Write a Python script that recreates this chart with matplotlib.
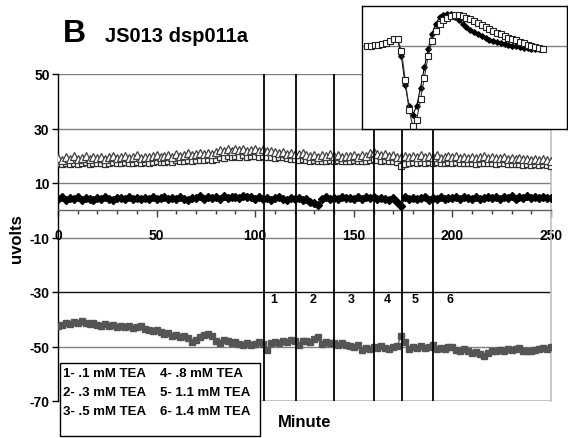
import numpy as np
import matplotlib
matplotlib.use("Agg")
import matplotlib.pyplot as plt

plt.rcParams['font.family'] = ['Liberation Sans', 'DejaVu Sans']
plt.rcParams['font.weight'] = 'bold'

# ---------------- data ----------------
tri_vals = [19.2,18.6,19.5,18.9,19.8,18.7,19.3,19.9,18.8,19.4,
            19.1,19.7,18.9,19.6,20.0,19.2,19.5,19.9,19.0,19.6,
            20.2,19.3,19.7,19.4,19.9,20.1,19.5,19.8,20.3,19.6,
            20.6,20.0,20.4,20.9,20.3,20.7,21.0,20.5,21.1,20.8,
            21.3,22.0,21.6,22.4,21.9,22.3,22.1,22.6,21.8,22.2,
            22.5,21.9,22.3,21.6,21.8,21.3,21.0,21.2,20.8,21.0,
            20.6,20.5,20.9,20.2,19.8,20.3,19.7,20.1,19.9,20.6,
            19.8,20.2,19.6,20.0,19.9,20.4,19.7,20.1,19.8,20.9,
            21.2,20.5,20.2,20.6,19.9,20.3,19.6,19.4,20.0,19.5,
            19.9,19.7,20.2,19.4,19.8,19.6,20.1,19.3,19.7,19.9,
            19.5,19.8,19.2,19.6,19.3,19.7,19.1,19.5,19.8,19.2,
            19.4,19.0,19.3,19.6,18.9,19.2,18.8,19.1,18.7,18.9,
            18.6,18.9,18.4,18.7,18.3,18.2]
sq_vals = [17.4,17.0,17.3,17.1,17.5,16.9,17.2,17.6,17.0,17.3,
           17.2,17.5,17.1,17.4,17.7,17.3,17.5,17.6,17.2,17.5,
           17.8,17.4,17.6,17.5,17.8,17.9,17.6,17.8,18.0,17.7,
           18.3,18.0,18.2,18.5,18.2,18.4,18.6,18.4,18.7,18.6,
           18.9,19.5,19.3,19.8,19.6,19.9,19.7,20.1,19.6,19.8,
           20.0,19.7,19.9,19.5,19.6,19.2,19.4,19.7,19.0,18.7,
           18.9,18.5,18.8,18.3,18.0,18.4,18.0,18.2,18.1,18.5,
           18.0,18.3,17.9,18.1,18.0,18.4,17.9,18.2,18.0,18.6,
           18.9,18.4,18.2,18.4,17.9,18.2,17.6,16.4,17.0,17.3,
           17.6,17.5,17.8,17.4,17.6,17.5,17.8,17.3,17.5,17.6,
           17.4,17.6,17.2,17.4,17.3,17.5,17.1,17.3,17.5,17.2,
           17.3,17.0,17.2,17.4,16.9,17.1,16.8,17.0,16.7,16.9,
           16.7,16.9,16.6,16.8,16.5,16.4]
dia_vals = [4.3,4.9,3.8,4.5,4.1,4.7,3.9,4.4,4.2,3.7,
            4.5,4.0,4.8,4.3,3.9,4.6,4.4,4.1,4.9,4.2,
            4.6,4.0,4.5,4.3,4.8,4.1,4.4,4.7,4.0,4.5,
            4.3,4.9,4.2,3.6,4.6,4.4,5.1,4.3,4.7,4.5,
            4.9,4.2,5.3,4.6,4.8,5.0,4.4,5.4,4.7,4.9,
            4.3,4.8,4.1,4.6,3.8,4.4,4.9,4.2,3.7,4.5,
            4.0,4.6,3.9,4.3,3.2,2.6,2.0,4.0,4.7,4.2,
            4.5,4.1,4.8,4.4,4.6,4.2,4.9,4.3,4.7,4.5,
            5.0,4.1,4.6,4.3,3.7,4.5,3.0,1.5,4.8,4.2,
            4.6,4.0,4.4,4.7,3.9,4.5,4.3,4.8,4.1,4.6,
            4.4,4.9,4.2,4.7,4.5,4.1,4.8,4.3,4.6,5.0,
            4.4,4.7,4.2,4.9,4.5,5.1,4.3,4.8,4.6,5.2,
            4.5,4.9,4.4,4.7,4.6,4.5]
low_vals = [-42.5,-42,-41.5,-41.8,-41,-41.5,-40.5,-41.2,-41.8,-41.5,
            -42,-42.3,-41.8,-42.5,-42,-42.8,-42.5,-43,-42.6,-43.2,
            -42.8,-42.5,-43.4,-43.8,-44.2,-44,-44.8,-45.5,-45,-46,
            -45.6,-46.5,-46.2,-47,-48.4,-47.5,-46.5,-45.8,-45.5,-46.3,
            -47.8,-48.6,-47.6,-48,-48.8,-48.2,-49,-49.5,-48.7,-49.3,
            -49,-48.5,-49.2,-51.2,-48.6,-48.2,-48.8,-47.8,-48.3,-47.6,
            -48,-49.5,-48,-47.8,-48.5,-47.2,-46.5,-48.9,-48.2,-48.6,
            -48.8,-49.3,-48.7,-49.5,-49.8,-50.2,-49.5,-51.3,-50.5,-50.8,
            -50.2,-50.6,-49.8,-50.5,-50.9,-50,-49.7,-46.2,-48.5,-50.8,
            -50.2,-50.5,-49.8,-50.6,-50.1,-49.5,-50.8,-50.4,-51,-50.2,
            -50,-51.2,-51.6,-51,-51.8,-52.3,-52,-52.8,-53.6,-52.5,
            -51.6,-51.8,-51.2,-51.5,-50.8,-51.4,-51,-50.6,-51.6,-51.5,
            -51.8,-51.2,-51,-50.6,-50.8,-50.3]
sample_step = 2  # minutes between samples

drug_times = [104.5, 120.5, 140, 160, 174.5, 190]
drug_labels = ['1', '2', '3', '4', '5', '6']
drug_label_x = [109.5, 129.3, 148.6, 166.8, 181, 198.8]
legend_col1 = ['1- .1 mM TEA', '2- .3 mM TEA', '3- .5 mM TEA']
legend_col2 = ['4- .8 mM TEA', '5- 1.1 mM TEA', '6- 1.4 mM TEA']

xticks = [0, 50, 100, 150, 200, 250]
yticks = [50, 30, 10, -10, -30, -50, -70]

# inset traces (arbitrary units, zero = baseline)
inset_sq = [0,0,1,3,6,9,15,20,19,-15,-102,-190,-240,-220,-160,-95,-30,
            15,45,65,75,83,88,90,90,87,83,78,73,67,61,55,49,44,39,34,29,
            24,20,16,11,7,3,-1,-4,-7,-10]
inset_dia = [0,0,1,3,6,9,15,20,19,-30,-118,-180,-205,-180,-125,-65,-10,
             35,65,85,92,95,93,85,75,65,55,47,40,34,28,22,18,14,10,8,5,3,
             0,-2,-4,-6,-8,-9,-10,-10,-10]

# ---------------- figure ----------------
fig = plt.figure(figsize=(5.68, 4.39), dpi=100)
ax = fig.add_axes([58/568, 1-402/439, (551-58)/568, (402-75)/439])

t = np.arange(len(tri_vals)) * sample_step
ax.plot(t, sq_vals, color='#404040', lw=0.6, marker='s', ms=4.5,
        mfc='white', mec='#303030', mew=0.9, zorder=3)
ax.plot(t, tri_vals, color='#606060', lw=0.6, marker='^', ms=6.2,
        mfc='white', mec='#404040', mew=0.9, zorder=4)
ax.plot(t, dia_vals, color='black', lw=0.9, marker='D', ms=4.4,
        mfc='black', mec='black', zorder=4)
ax.plot(t, low_vals, color='#555555', lw=0.8, marker='s', ms=4.2,
        mfc='#555555', mec='#555555', zorder=4)

ax.set_xlim(0, 250)
ax.set_ylim(-70, 50)

for y in yticks:
    c = '#111111' if y == -30 else '#808080'
    ax.axhline(y, color=c, lw=1.0, zorder=1)

for x in drug_times:
    ax.axvline(x, color='black', lw=1.3, zorder=5)
for x, lab in zip(drug_label_x, drug_labels):
    ax.text(x, -32.6, lab, ha='center', va='center', fontsize=9,
            fontweight='bold', zorder=6)

ax.spines['left'].set_color('black')
ax.spines['left'].set_linewidth(1.0)
ax.spines['right'].set_color('#c0c0c0')
ax.spines['right'].set_linewidth(1.2)
ax.spines['top'].set_visible(False)
ax.spines['bottom'].set_position(('data', 0))
ax.spines['bottom'].set_color('#606060')
ax.spines['bottom'].set_linewidth(1.0)

ax.set_yticks(yticks)
ax.set_yticklabels([str(v) for v in yticks], fontsize=10, fontweight='bold')
ax.tick_params(axis='y', direction='out', length=4, width=1, pad=2)
ax.set_xticks(xticks)
ax.set_xticklabels([str(v) for v in xticks], fontsize=10, fontweight='bold')
ax.set_xticks(np.arange(0, 251, 10), minor=True)
ax.tick_params(axis='x', which='major', direction='out', length=5, width=1,
               pad=8, color='#404040')
ax.tick_params(axis='x', which='minor', direction='out', length=3, width=1,
               color='#404040')

# bottom border at -70 (light grey)
ax.axhline(-70, color='#c0c0c0', lw=1.2, zorder=2)

ax.set_ylabel('uvolts', fontsize=12, fontweight='bold', labelpad=4)
fig.text(305/568, 1-423/439, 'Minute', ha='center', va='center',
         fontsize=12, fontweight='bold')

fig.text(63/568, 1-34/439, 'B', ha='left', va='center', fontsize=23,
         fontweight='bold')
fig.text(105/568, 1-37/439, 'JS013 dsp011a', ha='left', va='center',
         fontsize=14.5, fontweight='bold')

# legend-like text box
lx0, ly0, lx1, ly1 = 60, 364, 260, 437
fig.patches.append(plt.Rectangle((lx0/568, 1-ly1/439), (lx1-lx0)/568,
                                 (ly1-ly0)/439, transform=fig.transFigure,
                                 facecolor='white', edgecolor='black',
                                 lw=1.0, zorder=10))
row_y = [374, 393, 412]
for yy, a, b in zip(row_y, legend_col1, legend_col2):
    fig.text(63/568, 1-yy/439, a, ha='left', va='center', fontsize=9.5,
             fontweight='bold', zorder=11)
    fig.text(160/568, 1-yy/439, b, ha='left', va='center', fontsize=9.5,
             fontweight='bold', zorder=11)

# inset
axi = fig.add_axes([362/568, 1-130/439, (567-362)/568, (130-7)/439])
axi.set_zorder(20)
axi.set_facecolor('white')
xi = np.arange(len(inset_sq))
axi.axhline(0, color='#808080', lw=1.0)
axi.plot(xi, inset_dia, color='black', lw=0.8, marker='D', ms=2.8,
         mfc='black', mec='black')
axi.plot(xi, inset_sq, color='#333333', lw=0.8, marker='s', ms=4.6,
         mfc='white', mec='#222222', mew=0.8)
axi.set_xlim(-1.3, 52.3)
axi.set_ylim(-248, 118)
axi.set_xticks([])
axi.set_yticks([])
for s in axi.spines.values():
    s.set_color('black')
    s.set_linewidth(1.0)

fig.savefig('out.png', dpi=100)
